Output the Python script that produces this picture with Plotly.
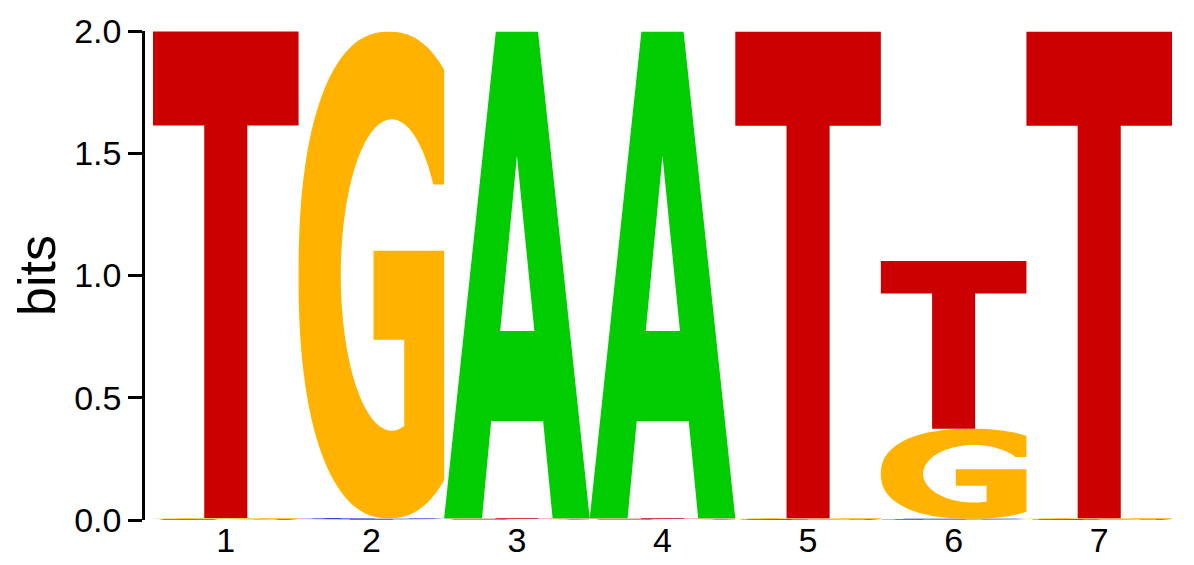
import numpy as np
import plotly.graph_objects as go

# information content (bits) per base at each motif position
positions = [1, 2, 3, 4, 5, 6, 7]
bits_A = [0.003, 0.002, 1.990, 1.990, 0.002, 0.002, 0.002]
bits_C = [0.002, 0.003, 0.002, 0.002, 0.002, 0.003, 0.002]
bits_G = [0.003, 1.990, 0.002, 0.002, 0.003, 0.368, 0.003]
bits_T = [1.990, 0.002, 0.003, 0.003, 1.990, 0.686, 1.990]

y_ticks = [0.0, 0.5, 1.0, 1.5, 2.0]

base_colors = {'A': '#00CC00', 'C': '#0000CC', 'G': '#FFB300', 'T': '#CC0000'}


def arc(cx, cy, rx, ry, a0, a1, p=2.0, steps=80):
    """Points along a (super)ellipse between two angles, in degrees."""
    t = np.radians(np.linspace(a0, a1, steps))
    c, s = np.cos(t), np.sin(t)
    xs = cx + rx * np.sign(c) * np.abs(c) ** (2 / p)
    ys = cy + ry * np.sign(s) * np.abs(s) ** (2 / p)
    return list(zip(xs, ys))


def glyph(letter):
    """
    Outline of a letter in a unit box (x and y from 0 to 1).
    Holes are cut with a zero width slit so one filled path is enough.
    """
    if letter == 'T':
        return [(0, 1), (1, 1), (1, 0.807), (0.648, 0.807), (0.648, 0),
                (0.352, 0), (0.352, 0.807), (0, 0.807)]
    if letter == 'A':
        return [(0, 0), (0.26, 0), (0.323, 0.2),
                (0.385, 0.385), (0.5, 0.745), (0.62, 0.385), (0.385, 0.385),
                (0.323, 0.2), (0.68, 0.2), (0.745, 0), (1, 0),
                (0.645, 1), (0.355, 1)]
    if letter == 'G':
        pts = arc(0.62, 0.5, 0.62, 0.5, 55.3, 304.7, p=2.3)
        pts += [(1.0, 0.08), (1.0, 0.55), (0.515, 0.55), (0.515, 0.367), (0.726, 0.367)]
        pts += arc(0.64, 0.5, 0.35, 0.32, 284.2, 35.5)
        pts += [(1.0, 0.686)]
        return pts
    # C
    pts = arc(0.62, 0.5, 0.62, 0.5, 55.3, 304.7, p=2.3)
    pts += arc(0.64, 0.5, 0.35, 0.32, 325, 35)
    return pts


def build_figure():
    """Stacks the letters of every position, smallest at the bottom."""
    fig = go.Figure()
    heights = {'A': bits_A, 'C': bits_C, 'G': bits_G, 'T': bits_T}

    for i, pos in enumerate(positions):
        stack = sorted(heights, key=lambda b: heights[b][i])
        base = 0.0
        for letter in stack:
            h = heights[letter][i]
            outline = glyph(letter)
            xs = [pos - 0.5 + gx for gx, gy in outline]
            ys = [base + gy * h for gx, gy in outline]
            fig.add_trace(go.Scatter(x=xs + [xs[0]], y=ys + [ys[0]], mode='none',
                                     fill='toself', fillcolor=base_colors[letter],
                                     hoverinfo='skip', showlegend=False))
            base += h

    font = dict(family='Liberation Sans, Arial, sans-serif', color='black')

    # the page body adds 8px around the figure, so it is drawn 8px smaller
    fig.update_layout(width=1186, height=557,
                      margin=dict(l=137, r=22, t=22.5, b=45, pad=0),
                      paper_bgcolor='white', plot_bgcolor='white',
                      font=dict(font, size=34))

    fig.update_xaxes(range=[0.445, 7.5], tickvals=positions,
                     ticktext=[str(p) for p in positions],
                     showgrid=False, zeroline=False, showline=False, ticks='',
                     ticklabelstandoff=-3,
                     automargin=False, tickfont=dict(font, size=34))
    fig.update_yaxes(range=[0, 2], tickvals=y_ticks,
                     ticktext=[f'{v:.1f}' for v in y_ticks],
                     showgrid=False, zeroline=False, showline=True,
                     linecolor='black', linewidth=2.5,
                     ticks='outside', ticklen=14, tickwidth=2.5, tickcolor='black',
                     automargin=False, tickfont=dict(font, size=34),
                     title=dict(text='bits', font=dict(font, size=52), standoff=11))
    return fig


if __name__ == "__main__":
    fig = build_figure()
    fig.write_html("out.html")
